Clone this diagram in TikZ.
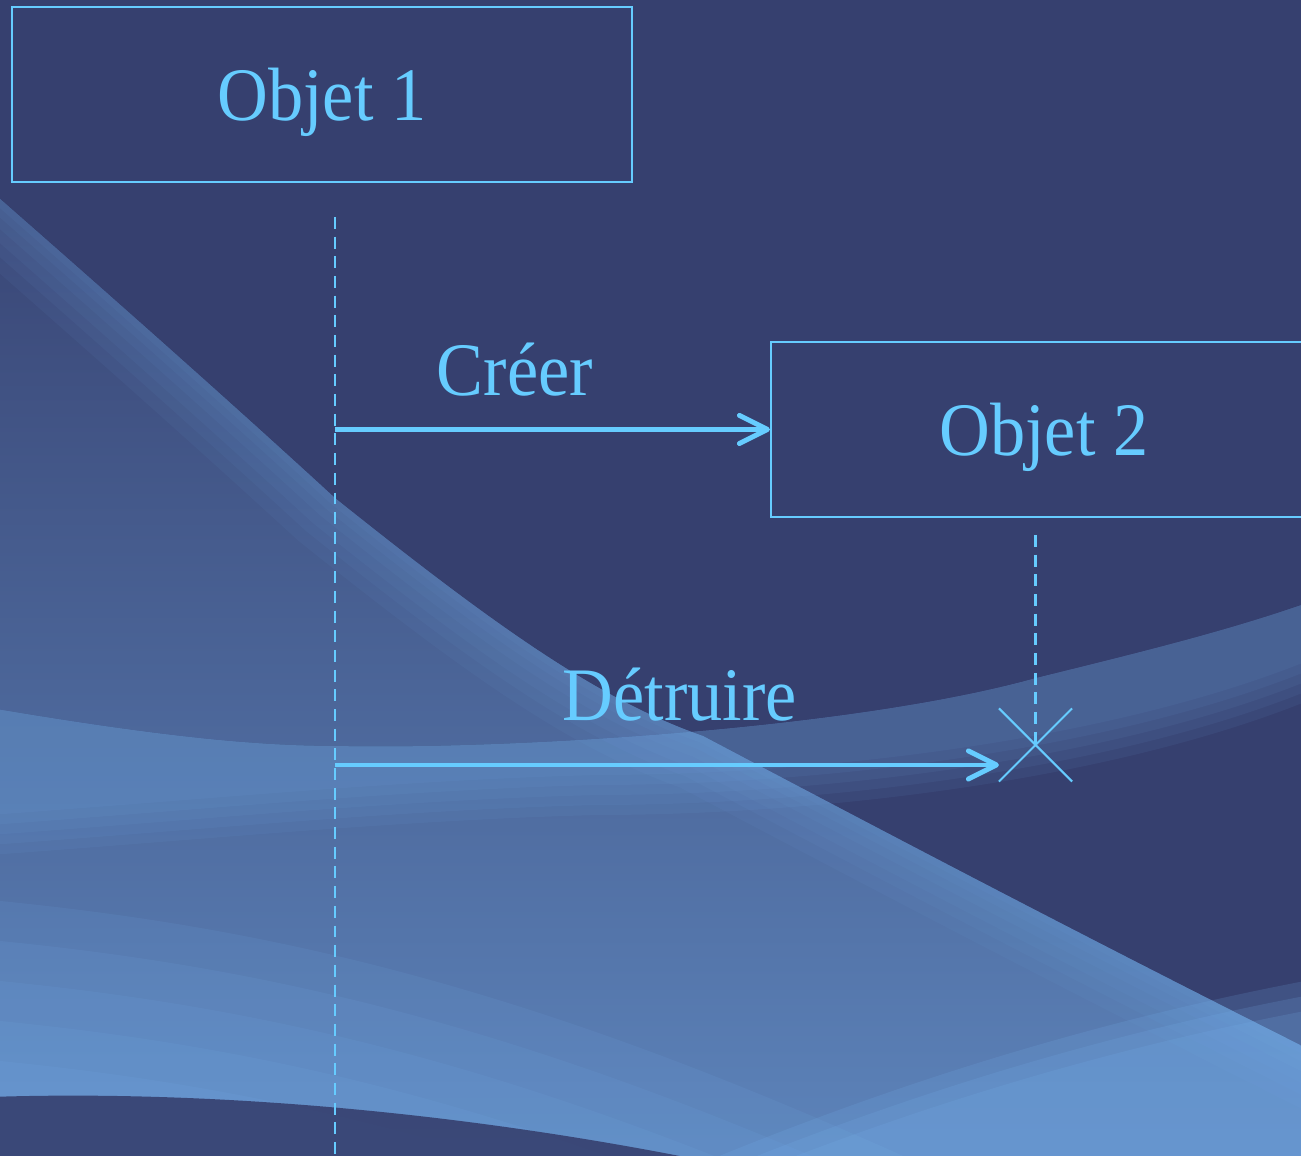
\documentclass[tikz,border=0pt]{standalone}
\usepackage{fontspec}
\setmainfont{Liberation Serif}
\usepackage{tikz}
\usetikzlibrary{arrows.meta,shapes.misc}
\definecolor{backdrop}{HTML}{36406F}
\definecolor{haze}{HTML}{78B4F0}
\definecolor{ink}{HTML}{66CCFF}
\newcommand{\narrowtext}[1]{\scalebox{0.93}[1]{#1}}
\tikzset{
  obj/.style={draw=ink, line width=0.6pt, text=ink, minimum height=1.75cm, inner sep=0pt, text depth=0pt},
  life/.style={draw=ink, line width=0.6pt, dash pattern=on 3.4pt off 2.2pt},
  msg/.style={draw=ink, line width=1.4pt, -{Straight Barb[length=8pt,width=8pt,round]}},
  msglab/.style={text=ink},
  kill/.style={cross out, draw=ink, line width=0.6pt, minimum size=0.71cm, inner sep=0pt},
  wave/.style={fill=haze},
}
% edge of the big diagonal veil
\def\ridge{(-0.5,-1.55) .. controls (1.5,-3.3) and (2.5,-4.2) .. (3.35,-4.98)
  .. controls (5,-6.3) and (6,-7.0) .. (7.03,-7.36)
  .. controls (9,-8.4) and (11,-9.45) .. (13.5,-10.7)}

\begin{document}
\begin{tikzpicture}[font=\fontsize{21.5}{26}\selectfont]
  \useasboundingbox (0,0) rectangle (13.01,-11.56);
  % background veils
  \begin{scope}
    \clip (0,0) rectangle (13.01,-11.56);
    \fill[backdrop] (0,0) rectangle (13.01,-11.56);
    \begin{scope}
      \clip \ridge -- (13.5,-12) -- (-0.5,-12) -- cycle;
      \shade[top color=haze!2!backdrop, middle color=haze!13!backdrop, bottom color=haze!58!backdrop]
        (0,-1.5) rectangle (13.01,-11.56);
      \foreach \w in {32,25,19,13,8,4}
        \draw[haze, line width=\w pt, opacity=0.055] \ridge;
    \end{scope}
    % horizontal band
    \foreach \d in {0,0.1,0.2,0.3,0.4}
      \fill[wave, fill opacity=0.07] (-0.1,-7.08) .. controls (1.5,-7.35) and (2.5,-7.46) .. (3.35,-7.46)
        .. controls (5,-7.5) and (8.5,-7.3) .. (10.36,-6.78) .. controls (11.5,-6.5) and (12.3,-6.3) .. (13.1,-6.02)
        -- (13.1,-6.6-\d) .. controls (11,-7.45-\d) and (8,-7.75-\d) .. (6,-7.75-\d)
        .. controls (4,-7.8-\d) and (2,-8.0-\d) .. (-0.1,-8.15-\d) -- cycle;
    % glow along the bottom
    \foreach \d in {0,0.4,0.8,1.2,1.6}
      \fill[wave, fill opacity=0.1] (-0.1,-9.0-\d) .. controls (3,-9.3-\d) and (6,-10.0-\d) .. (11,-12.5-\d)
        -- (-0.1,-12.5-\d) -- cycle;
    \foreach \d in {0,0.15,0.3}
      \fill[wave, fill opacity=0.16] (5.5,-12.3-\d) .. controls (8.5,-10.9-\d) and (11,-10.2-\d) .. (13.1,-9.8-\d)
        -- (13.1,-12.3) -- cycle;
    % dark arc in the corner
    \fill[backdrop, fill opacity=0.9] (-0.1,-10.97) .. controls (2,-10.9) and (4.5,-11.1) .. (7.0,-11.6)
      -- (-0.1,-11.6) -- cycle;
  \end{scope}

  \node[obj, minimum width=6.2cm] (obj1) at (3.22,-0.945) {\narrowtext{Objet 1}};
  \node[obj, minimum width=5.46cm] (obj2) at (10.44,-4.295) {\narrowtext{Objet 2}};
  \node[kill] (end2) at (10.355,-7.45) {};

  \coordinate (top1) at (3.35,-2.17);
  \coordinate (bot1) at (3.35,-11.56);
  \coordinate (top2) at (10.355,-5.35);
  \coordinate (new1) at (3.35,-4.295);
  \coordinate (del1) at (3.35,-7.65);

  \draw[life] (top1) -- (bot1);
  \draw[life] (top2) -- (end2.center);

  \draw[msg] (new1) -- (obj2.west);
  \draw[msg] (del1) -- (del1 -| end2.west);
  \node[msglab] (creer) at (5.15,-3.70) {\narrowtext{Créer}};
  \node[msglab] (detruire) at (6.80,-6.95) {\narrowtext{Détruire}};
\end{tikzpicture}
\end{document}
